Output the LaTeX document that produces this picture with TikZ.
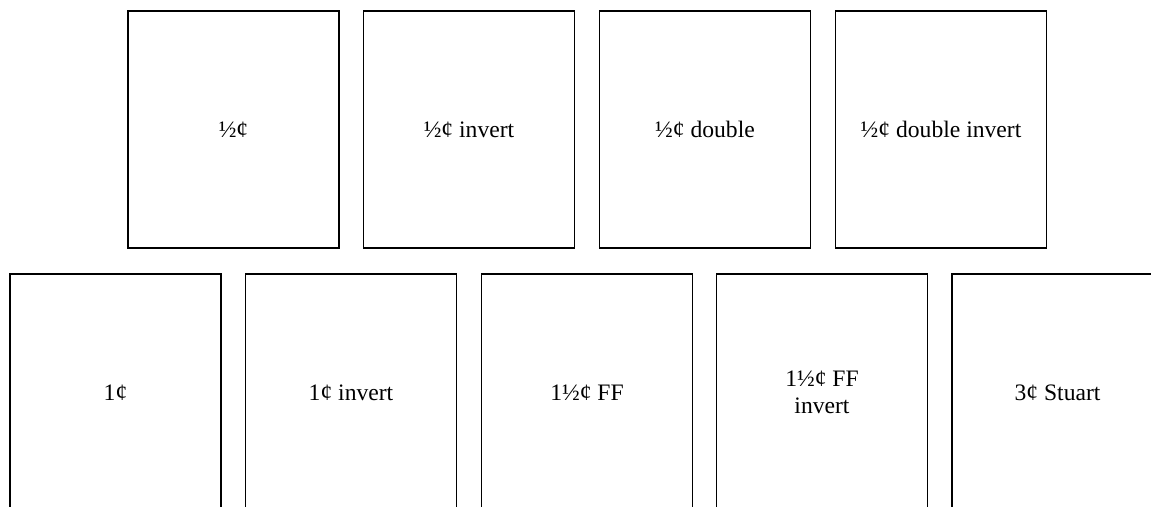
\documentclass[tikz,border=0pt]{standalone}
\usepackage{fontspec}
\setmainfont{Liberation Serif}
\begin{document}
\begin{tikzpicture}[x=1pt,y=-1pt,
  card/.style={draw=black,line width=1.9pt,minimum width=211pt,minimum height=237pt,
    inner sep=0pt,align=center,font=\fontsize{23.6pt}{27.5pt}\selectfont}]
\useasboundingbox (0,0) rectangle (1151,506);
\clip (0,0) rectangle (1151,506);
\node[card] (a) at (233.5,129.5) {½¢};
\node[card] (b) at (469,129.5) {½¢ invert};
\node[card] (c) at (705,129.5) {½¢ double};
\node[card] (d) at (941,129.5) {½¢ double invert};
\node[card] (e) at (115.5,392.5) {1¢};
\node[card] (f) at (351,392.5) {1¢ invert};
\node[card] (g) at (587,392.5) {1½¢ FF};
\node[card] (h) at (822,392.5) {1½¢ FF\\invert};
\node[card] (i) at (1057.5,392.5) {3¢ Stuart};
\end{tikzpicture}
\end{document}
